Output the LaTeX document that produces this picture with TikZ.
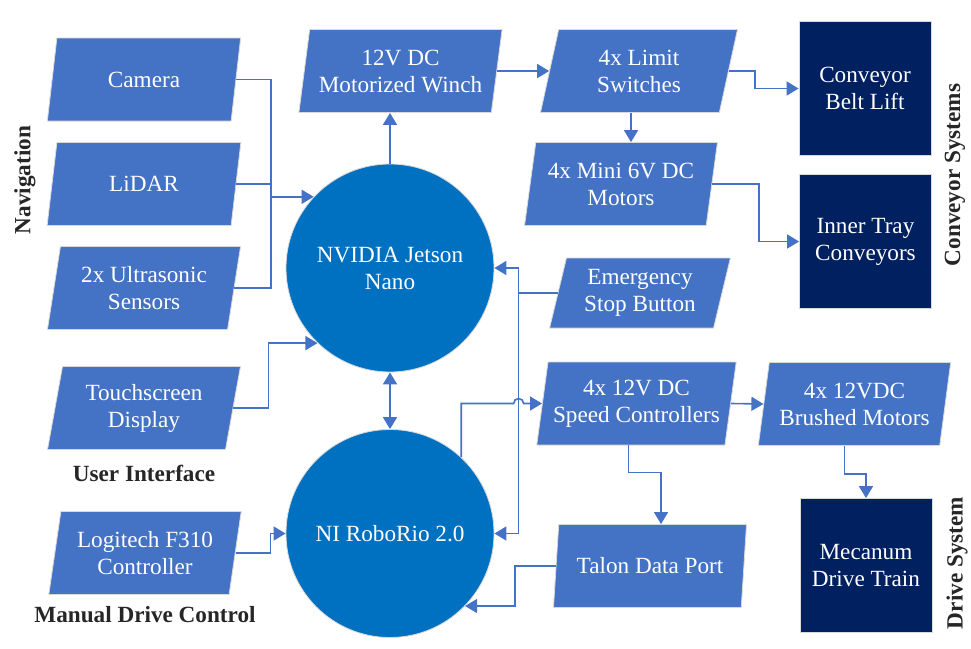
\documentclass[tikz,border=0pt]{standalone}
\usepackage{fontspec}
\setmainfont{Liberation Serif}
\usetikzlibrary{shapes.geometric,arrows.meta}
\definecolor{boxblue}{HTML}{4472C4}
\definecolor{hubblue}{HTML}{0070C0}
\definecolor{navy}{HTML}{002060}
\begin{document}
\begin{tikzpicture}[x=0.5pt, y=-0.5pt,
    every node/.style={font=\fontsize{11.6}{13.5}\selectfont, align=center},
    io/.style={trapezium, trapezium left angle=78, trapezium right angle=102,
      trapezium stretches, fill=boxblue, draw=black!15, text=white,
      minimum width=97pt, minimum height=41.5pt, inner sep=1pt},
    hub/.style={circle, fill=hubblue, draw=black!15, text=white,
      minimum size=104pt, inner sep=0pt},
    unit/.style={rectangle, fill=navy, draw=black!15, text=white,
      minimum width=66pt, minimum height=67pt},
    group/.style={font=\bfseries\fontsize{11.6}{13.5}\selectfont, text=black!85},
    link/.style={draw=boxblue, line width=0.8pt},
    flow/.style={link, -{Triangle[length=6pt, width=7pt]}},
    both/.style={link, {Triangle[length=6pt, width=7pt]}-{Triangle[length=6pt, width=7pt]}}]
  \useasboundingbox (0,0) rectangle (971,649);

  % inputs
  \node [io] (Cam) at (144,79.5) {Camera};
  \node [io] (Lid) at (144,184) {LiDAR};
  \node [io] (Ult) at (144,288) {2x Ultrasonic\\Sensors};
  \node [io] (Tch) at (144,408) {Touchscreen\\Display};
  \node [io] (Log) at (145,553) {Logitech F310\\Controller};

  % controllers
  \node [hub] (Jet) at (390,268) {NVIDIA Jetson\\Nano};
  \node [hub] (Rio) at (390,533.5) {NI RoboRio 2.0};

  % actuators
  \node [io, minimum width=102.5pt] (Win) at (400.5,71) {12V DC\\Motorized Winch};
  \node [io, minimum width=99pt] (Lim) at (639,71) {4x Limit\\Switches};
  \node [io] (Mini) at (621,184) {4x Mini 6V DC\\Motors};
  \node [io, minimum width=91pt, minimum height=35pt,
    trapezium left angle=75.5, trapezium right angle=104.5] (Emg) at (640,293) {Emergency\\Stop Button};
  \node [io, minimum width=100.5pt] (Spd) at (636.5,403.5) {4x 12V DC\\Speed Controllers};
  \node [io] (Tdp) at (650,566) {Talon Data Port};
  \node [io] (Brm) at (854.5,404) {4x 12VDC\\Brushed Motors};

  \node [unit] (Belt) at (865,88.5) {Conveyor\\Belt Lift};
  \node [unit] (Tray) at (865.5,241.5) {Inner Tray\\Conveyors};
  \node [unit] (Mec) at (866,565.5) {Mecanum\\Drive Train};

  % group labels
  \node [group, rotate=90] (navlbl) at (25,180) {Navigation};
  \node [group] (uilbl) at (144,473) {User Interface};
  \node [group] (mdlbl) at (145,615) {Manual Drive Control};
  \node [group, rotate=90] (cvlbl) at (955,175) {Conveyor Systems};
  \node [group, rotate=90] (drlbl) at (957,563) {Drive System};

  % sensors to Jetson
  \draw [flow] (Cam.east) -- ++(35,0) coordinate (nav) |- (Jet.137);
  \draw [link] (Lid.east) -- (Lid.east -| nav);
  \draw [link] (Ult.east) -| (nav |- Jet.137);
  \draw [flow] (Tch.east) -- ++(35,0) |- (Jet.226);
  \draw [flow] (Log.east) -- ++(35,0) |- (Rio.west);

  % conveyor chain
  \draw [flow] (Jet.north) -- (Jet.north |- Win.south);
  \draw [flow] (Win.east) -- (Lim.west);
  \draw [flow] (Lim.east) -- ++(26,0) |- (Belt.west);
  \draw [flow] ([xshift=-4pt]Lim.south) -- ([xshift=-4pt]Lim.south |- Mini.north);
  \draw [flow] (Mini.east) -- ++(47,0) |- (Tray.west);

  % emergency stop
  \draw [link] (Emg.west) -- ++(-39,0) coordinate (es);
  \draw [flow] (es) |- (Jet.east);
  \draw [flow] (es) |- (Rio.east);

  % drive chain
  \draw [both] (Jet) -- (Rio);
  \draw [flow] (Rio.47) |- ([xshift=-2.5pt]es |- Spd.west)
    arc [start angle=180, end angle=0, radius=2.5pt] -- (Spd.west);
  \draw [flow] (Spd.east) -- (Brm.west);
  \draw [flow] ([xshift=-4pt]Spd.south) -- ++(0,27) -| ([xshift=5.5pt]Tdp.north);
  \draw [flow] ([xshift=-5pt]Brm.south) -- ++(0,28) -| (Mec.north);
  \draw [flow] (Tdp.west) -- ++(-41,0) |- (Rio.-44);
\end{tikzpicture}
\end{document}
